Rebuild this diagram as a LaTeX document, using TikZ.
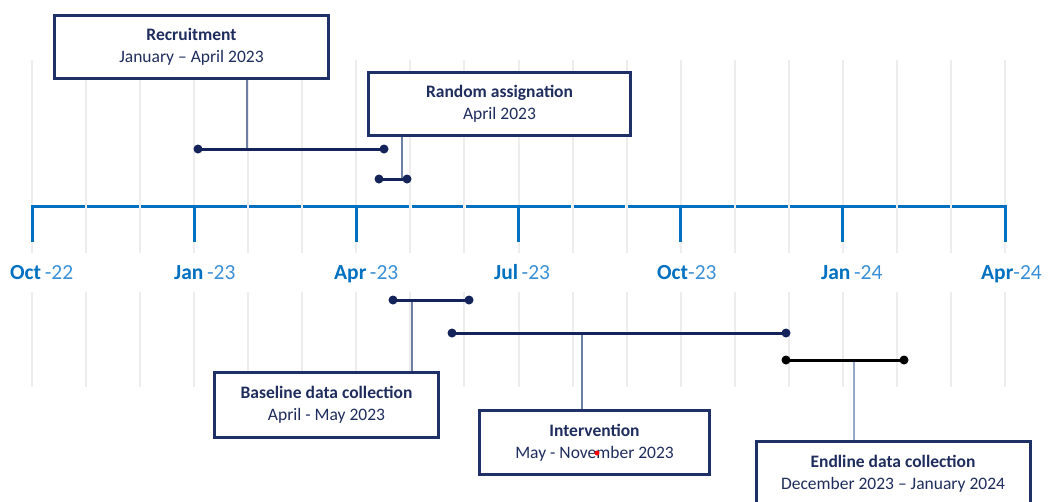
\documentclass[tikz,border=0pt]{standalone}
\usepackage{fontspec}
\setmainfont{Carlito}
\definecolor{axisblue}{HTML}{0070C0}
\definecolor{lblue}{HTML}{3A8FD6}
\definecolor{navy}{HTML}{1F3066}
\definecolor{navytext}{HTML}{1F2D5E}
\definecolor{barnavy}{HTML}{14245A}
\definecolor{connc}{HTML}{6E7FA6}
\definecolor{connl}{HTML}{9AA8C8}
\definecolor{gridc}{HTML}{EDEDED}
\begin{document}
\begin{tikzpicture}[x=1pt,y=-1pt,
  gridline/.style={draw=gridc,line width=2pt},
  axisline/.style={draw=axisblue,line width=3pt},
  ticklabel/.style={anchor=base west,inner sep=0pt,font=\fontsize{21.5}{24}\selectfont},
  tlbox/.style={draw=navy,line width=3pt,fill=white,text=navytext,align=center,inner sep=0pt,font=\fontsize{17.5}{22}\selectfont},
  bar/.style={draw=barnavy,line width=3pt},
  dot/.style={circle,fill=barnavy,inner sep=0pt,minimum size=9pt},
  conn/.style={draw=connc,line width=1.5pt}]
\useasboundingbox (0,0) rectangle (1048,501);
% grid lines
\foreach \i in {0,...,18}{
  \pgfmathsetmacro\xx{32+\i*54.0556}
  \draw[gridline] (\xx,60) -- (\xx,253);
  \draw[gridline] (\xx,292) -- (\xx,387);
}
% axis
\foreach \i in {0,...,17}{
  \pgfmathsetmacro\xa{32+\i*54.0556+1.2}
  \pgfmathsetmacro\xb{32+(\i+1)*54.0556-1.2}
  \draw[axisline] (\xa,206.5) -- (\xb,206.5);
}
\foreach \k in {0,...,6}{
  \pgfmathsetmacro\xx{32+\k*162.1667}
  \draw[axisline] (\xx,205) -- (\xx,242);
}
% axis labels
\node[ticklabel] (l0) at (10,279) {\textcolor{axisblue}{\bfseries Oct}\,\textcolor{lblue}{-22}};
\node[ticklabel] (l1) at (174,279) {\textcolor{axisblue}{\bfseries Jan}\,\textcolor{lblue}{-23}};
\node[ticklabel] (l2) at (334,279) {\textcolor{axisblue}{\bfseries Apr}\,\textcolor{lblue}{-23}};
\node[ticklabel] (l3) at (494,279) {\textcolor{axisblue}{\bfseries Jul}\,\textcolor{lblue}{-23}};
\node[ticklabel] (l4) at (657,279) {\textcolor{axisblue}{\bfseries Oct}\textcolor{lblue}{-23}};
\node[ticklabel] (l5) at (821,279) {\textcolor{axisblue}{\bfseries Jan}\,\textcolor{lblue}{-24}};
\node[ticklabel] (l6) at (981,279) {\textcolor{axisblue}{\bfseries Apr}\textcolor{lblue}{-24}};
% boxes
\node[tlbox,minimum width=274pt,minimum height=63pt] (rec) at (191.5,47) {\textbf{Recruitment}\\January – April 2023};
\node[tlbox,minimum width=262pt,minimum height=63pt] (ran) at (499.5,104) {\textbf{Random assignation}\\April 2023};
\node[tlbox,minimum width=224pt,minimum height=65pt] (bas) at (326.5,405) {\textbf{Baseline data collection}\\April - May 2023};
\node[tlbox,minimum width=230pt,minimum height=64pt] (int) at (594.5,442.5) {\textbf{Intervention}\\May - November 2023};
\node[tlbox,minimum width=274pt,minimum height=66pt] (end) at (893,474) {\textbf{Endline data collection}\\December 2023 – January 2024};
% bar coordinates
\coordinate (r1) at (198,149); \coordinate (r2) at (384,149); \coordinate (rc) at (247,149);
\coordinate (a1) at (379,179); \coordinate (a2) at (407,179); \coordinate (ac) at (402,179);
\coordinate (b1) at (393,300); \coordinate (b2) at (469,300); \coordinate (bc) at (412,300);
\coordinate (i1) at (452,333); \coordinate (i2) at (786,333); \coordinate (ic) at (582,333);
\coordinate (e1) at (786,360); \coordinate (e2) at (904,360); \coordinate (ec) at (854,360);
% connectors
\draw[conn] (rc) -- (rc |- rec.south);
\draw[conn] (ac) -- (ac |- ran.south);
\draw[conn] (bc) -- (bc |- bas.north);
\draw[conn] (ic) -- (ic |- int.north);
\draw[conn,draw=connl] (ec) -- (ec |- end.north);
% bars
\draw[bar] (r1) -- (r2);
\draw[bar] (a1) -- (a2);
\draw[bar] (b1) -- (b2);
\draw[bar] (i1) -- (i2);
\draw[bar,draw=black] (e1) -- (e2);
\foreach \p in {r1,r2,a1,a2,b1,b2,i1,i2}{\node[dot] (d\p) at (\p) {};}
\node[dot,fill=black] (de1) at (e1) {};
\node[dot,fill=black] (de2) at (e2) {};
% red mark
\node[circle,fill=red,inner sep=0pt,minimum size=5pt] (rd) at (597,453) {};
\end{tikzpicture}
\end{document}
